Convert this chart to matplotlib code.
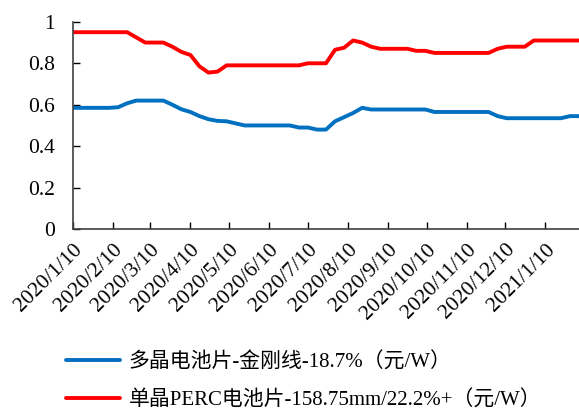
import numpy as np
import pandas as pd
import matplotlib
matplotlib.use("Agg")
import matplotlib.pyplot as plt
import matplotlib.dates as mdates

plt.rcParams['font.family'] = ['Liberation Serif', 'Noto Sans CJK SC']

# Weekly cell prices (元/W)
dates = pd.date_range("2020-01-10", periods=57, freq="7D")

poly_price = [
    0.585, 0.585, 0.585, 0.585, 0.585, 0.588, 0.607, 0.62, 0.62, 0.62,
    0.62, 0.60, 0.578, 0.565, 0.545, 0.53, 0.522, 0.52, 0.51, 0.50,
    0.50, 0.50, 0.50, 0.50, 0.50, 0.49, 0.49, 0.48, 0.48, 0.52,
    0.54, 0.56, 0.585, 0.577, 0.577, 0.577, 0.577, 0.577, 0.577, 0.577,
    0.565, 0.565, 0.565, 0.565, 0.565, 0.565, 0.565, 0.545, 0.535, 0.535,
    0.535, 0.535, 0.535, 0.535, 0.535, 0.545, 0.545,
]
perc_price = [
    0.95, 0.95, 0.95, 0.95, 0.95, 0.95, 0.95, 0.925, 0.90, 0.90,
    0.90, 0.88, 0.855, 0.84, 0.785, 0.755, 0.76, 0.79, 0.79, 0.79,
    0.79, 0.79, 0.79, 0.79, 0.79, 0.79, 0.80, 0.80, 0.80, 0.865,
    0.875, 0.91, 0.90, 0.88, 0.87, 0.87, 0.87, 0.87, 0.86, 0.86,
    0.85, 0.85, 0.85, 0.85, 0.85, 0.85, 0.85, 0.87, 0.88, 0.88,
    0.88, 0.91, 0.91, 0.91, 0.91, 0.91, 0.91,
]
series_names = [
    "多晶电池片-金刚线-18.7%（元/W）",
    "单晶PERC电池片-158.75mm/22.2%+（元/W）",
]
y_ticks = [0, 0.2, 0.4, 0.6, 0.8, 1.0]
y_tick_labels = ["0", "0.2", "0.4", "0.6", "0.8", "1"]

fig = plt.figure(figsize=(5.79, 4.12), dpi=100)
ax = fig.add_axes([0.126, 0.444, 0.874, 0.503])

l1, = ax.plot(dates, poly_price, color="#0070C0", lw=2.8, solid_capstyle="round")
l2, = ax.plot(dates, perc_price, color="#FF0000", lw=2.8, solid_capstyle="round")

ax.set_xlim(dates[0], dates[-1])
ax.set_ylim(0, 1)
ax.set_yticks(y_ticks)
ax.set_yticklabels(y_tick_labels)

ax.xaxis.set_major_locator(mdates.MonthLocator(bymonthday=10))
ax.xaxis.set_major_formatter(
    matplotlib.ticker.FuncFormatter(
        lambda v, p: "{0.year}/{0.month}/{0.day}".format(mdates.num2date(v))
    )
)
for lab in ax.get_xticklabels():
    lab.set_rotation(45)
    lab.set_ha("right")
    lab.set_rotation_mode("anchor")

ax.tick_params(axis="both", direction="in", length=5, width=1, colors="#000000",
               labelsize=15.5)
ax.tick_params(axis="x", pad=8)
ax.tick_params(axis="y", pad=13)
for s in ["top", "right"]:
    ax.spines[s].set_visible(False)
for s in ["left", "bottom"]:
    ax.spines[s].set_color("#404040")
    ax.spines[s].set_linewidth(1.2)

fig.legend([l1, l2], series_names, loc="center left",
           bbox_to_anchor=(0.114, 0.074), frameon=False, fontsize=15,
           handlelength=2.6, handletextpad=0.4, labelspacing=0.85,
           borderpad=0, borderaxespad=0)

fig.savefig("out.png", dpi=100)
